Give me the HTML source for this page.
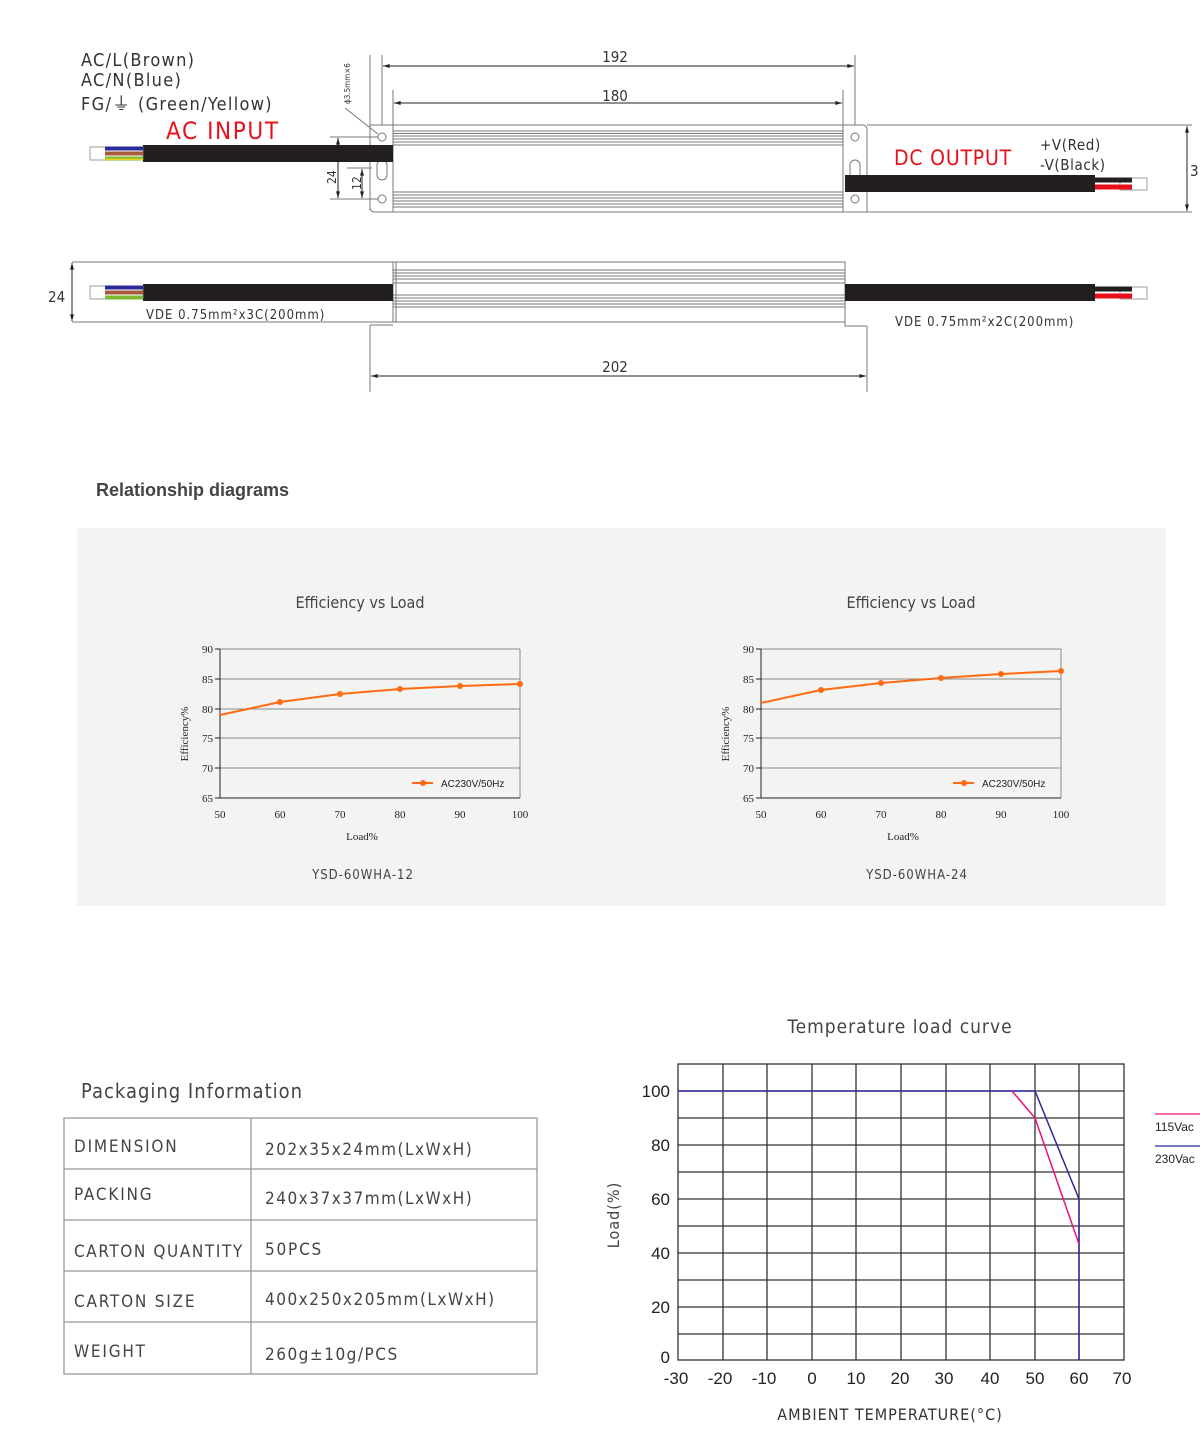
<!DOCTYPE html>
<html><head><meta charset="utf-8"><style>
html,body{margin:0;padding:0;background:#fff}
svg{display:block}
</style></head><body>
<svg width="1200" height="1446" viewBox="0 0 1200 1446" xmlns="http://www.w3.org/2000/svg" font-family="DejaVu Sans Condensed, Liberation Sans, sans-serif">
<defs>
<marker id="ar" viewBox="0 0 10 6" refX="10" refY="3" markerWidth="10" markerHeight="4" orient="auto-start-reverse"><path d="M0,0L10,3L0,6z" fill="#222"/></marker>
</defs>
<!-- ===== Top drawing ===== -->
<g fill="#333" font-size="18" letter-spacing="1.3">
<text x="81" y="66">AC/L(Brown)</text>
<text x="81" y="86">AC/N(Blue)</text>
<text x="81" y="110">FG/⏚ (Green/Yellow)</text>
</g>
<text x="166" y="139" font-size="24" fill="#e8101a" letter-spacing="1.6">AC INPUT</text>
<text x="894" y="165" font-size="21" fill="#e8101a" letter-spacing="0.8">DC OUTPUT</text>
<text x="1040" y="150" font-size="15" fill="#333" letter-spacing="0.6">+V(Red)</text>
<text x="1040" y="170" font-size="15" fill="#333" letter-spacing="0.6">-V(Black)</text>
<text x="1190" y="176" font-size="15" fill="#333">3</text>

<g stroke="#777" stroke-width="1" fill="none">
<line x1="370" y1="55" x2="370" y2="210"/>
<line x1="382" y1="55" x2="382" y2="125"/>
<line x1="855" y1="55" x2="855" y2="125"/>
<line x1="393" y1="90" x2="393" y2="125"/>
<line x1="843" y1="90" x2="843" y2="125"/>
<line x1="867" y1="125" x2="1192" y2="125"/>
<line x1="867" y1="212" x2="1192" y2="212"/>
<path d="M370,125 H393 V212 H375 Q370,212 370,207 Z"/>
<path d="M843,125 H862 Q867,125 867,130 V212 H843 Z"/>
<circle cx="382" cy="137" r="4"/><circle cx="382" cy="199" r="4"/>
<rect x="377" y="160" width="10" height="20" rx="5"/>
<circle cx="855" cy="137" r="4"/><circle cx="855" cy="199" r="4"/>
<rect x="850" y="160" width="10" height="20" rx="5"/>
<rect x="393" y="125" width="450" height="87"/>
<line x1="393" y1="131" x2="843" y2="131"/><line x1="393" y1="133.5" x2="843" y2="133.5"/>
<line x1="393" y1="136" x2="843" y2="136"/><line x1="393" y1="139" x2="843" y2="139"/>
<line x1="393" y1="142" x2="843" y2="142"/><line x1="393" y1="145" x2="843" y2="145"/>
<line x1="393" y1="192" x2="843" y2="192"/><line x1="393" y1="195" x2="843" y2="195"/>
<line x1="393" y1="198" x2="843" y2="198"/><line x1="393" y1="201" x2="843" y2="201"/>
<line x1="393" y1="204" x2="843" y2="204"/><line x1="393" y1="207" x2="843" y2="207"/>
<rect x="393" y="262" width="452" height="60"/>
<line x1="396" y1="262" x2="396" y2="322"/>
<line x1="72" y1="262" x2="393" y2="262"/>
<line x1="72" y1="322" x2="393" y2="322"/>
<line x1="393" y1="270" x2="845" y2="270"/><line x1="393" y1="273" x2="845" y2="273"/>
<line x1="393" y1="276" x2="845" y2="276"/><line x1="393" y1="279" x2="845" y2="279"/>
<line x1="393" y1="283" x2="845" y2="283"/>
<line x1="393" y1="295" x2="845" y2="295"/><line x1="393" y1="298" x2="845" y2="298"/>
<line x1="393" y1="301" x2="845" y2="301"/><line x1="393" y1="304" x2="845" y2="304"/>
<line x1="393" y1="307" x2="845" y2="307"/>
<path d="M370,325 H393"/><path d="M845,322 V326 H867"/>
<line x1="370" y1="325" x2="370" y2="392"/>
<line x1="867" y1="326" x2="867" y2="392"/>
<line x1="330" y1="137" x2="378" y2="137"/>
<line x1="330" y1="199" x2="378" y2="199"/>
<line x1="347" y1="168" x2="372" y2="168"/>
<line x1="345" y1="108" x2="378" y2="134"/>
</g>
<g stroke="#222" stroke-width="1">
<line x1="383" y1="66" x2="854" y2="66" marker-start="url(#ar)" marker-end="url(#ar)"/>
<line x1="394" y1="103" x2="842" y2="103" marker-start="url(#ar)" marker-end="url(#ar)"/>
<line x1="371" y1="376" x2="866" y2="376" marker-start="url(#ar)" marker-end="url(#ar)"/>
<line x1="1187" y1="126" x2="1187" y2="211" marker-start="url(#ar)" marker-end="url(#ar)"/>
<line x1="72" y1="263" x2="72" y2="321" marker-start="url(#ar)" marker-end="url(#ar)"/>
<line x1="338" y1="138" x2="338" y2="198" marker-start="url(#ar)" marker-end="url(#ar)"/>
<line x1="362" y1="169" x2="362" y2="198" marker-start="url(#ar)" marker-end="url(#ar)"/>
</g>
<g fill="#333" font-size="15">
<text x="615" y="62" text-anchor="middle">192</text>
<text x="615" y="101" text-anchor="middle">180</text>
<text x="615" y="372" text-anchor="middle">202</text>
<text x="48" y="302">24</text>
<text x="146" y="319" font-size="13" letter-spacing="1">VDE 0.75mm²x3C(200mm)</text>
<text x="895" y="326" font-size="13" letter-spacing="1">VDE 0.75mm²x2C(200mm)</text>
<text transform="translate(336,184) rotate(-90)" font-size="12">24</text>
<text transform="translate(361,190) rotate(-90)" font-size="12">12</text>
<text transform="translate(350,104) rotate(-90)" font-size="8">ϕ3.5mm×6</text>
</g>
<g>
<rect x="143" y="145" width="250" height="17" fill="#231f1e"/>
<rect x="90" y="147" width="53" height="13" fill="#fff" stroke="#888" stroke-width="0.8"/>
<rect x="105" y="146.5" width="38" height="4" fill="#2a2a9a"/>
<rect x="105" y="151.5" width="38" height="4" fill="#a85a3a"/>
<rect x="105" y="156.5" width="38" height="4" fill="#7ab830"/>
<rect x="105" y="158.5" width="38" height="1.5" fill="#e6d020"/>
<rect x="143" y="284" width="250" height="17" fill="#231f1e"/>
<rect x="90" y="286" width="53" height="13" fill="#fff" stroke="#888" stroke-width="0.8"/>
<rect x="105" y="285.5" width="38" height="4" fill="#2a2a9a"/>
<rect x="105" y="290.5" width="38" height="4" fill="#a85a3a"/>
<rect x="105" y="295.5" width="38" height="4" fill="#7ab830"/>
<rect x="845" y="175" width="250" height="17" fill="#231f1e"/>
<rect x="1120" y="178" width="27" height="12" fill="#fff" stroke="#888" stroke-width="0.8"/>
<rect x="1095" y="177.5" width="37" height="5" fill="#231f1e"/>
<rect x="1095" y="184.5" width="37" height="5" fill="#e8101a"/>
<rect x="845" y="284" width="250" height="17" fill="#231f1e"/>
<rect x="1120" y="287" width="27" height="12" fill="#fff" stroke="#888" stroke-width="0.8"/>
<rect x="1095" y="286.5" width="37" height="5" fill="#231f1e"/>
<rect x="1095" y="293.5" width="37" height="5" fill="#e8101a"/>
</g>

<!-- ===== Relationship diagrams ===== -->
<text x="96" y="496" font-size="18" font-weight="bold" fill="#444" font-family="Liberation Sans,sans-serif">Relationship diagrams</text>
<rect x="77" y="528" width="1089" height="378" fill="#f3f4f2"/>
<g fill="#444" font-size="16">
<text x="360" y="608" text-anchor="middle">Efficiency vs Load</text>
<text x="911" y="608" text-anchor="middle">Efficiency vs Load</text>
</g>
<g fill="#444" font-size="13" letter-spacing="1">
<text x="363" y="879" text-anchor="middle">YSD-60WHA-12</text>
<text x="917" y="879" text-anchor="middle">YSD-60WHA-24</text>
</g>
<g font-family="Liberation Serif,serif" font-size="11" fill="#222">
<g stroke="#888" stroke-width="1">
<line x1="220" y1="649" x2="520" y2="649"/><line x1="220" y1="679" x2="520" y2="679"/>
<line x1="220" y1="709" x2="520" y2="709"/><line x1="220" y1="738" x2="520" y2="738"/>
<line x1="220" y1="768" x2="520" y2="768"/><line x1="520" y1="649" x2="520" y2="798"/>
</g>
<g stroke="#222" stroke-width="1">
<line x1="220" y1="649" x2="220" y2="798"/><line x1="220" y1="798" x2="520" y2="798"/>
<line x1="215" y1="649" x2="220" y2="649"/><line x1="215" y1="679" x2="220" y2="679"/><line x1="215" y1="709" x2="220" y2="709"/><line x1="215" y1="738" x2="220" y2="738"/><line x1="215" y1="768" x2="220" y2="768"/><line x1="215" y1="798" x2="220" y2="798"/>
</g>
<text x="213" y="653" text-anchor="end">90</text><text x="213" y="683" text-anchor="end">85</text><text x="213" y="713" text-anchor="end">80</text><text x="213" y="742" text-anchor="end">75</text><text x="213" y="772" text-anchor="end">70</text><text x="213" y="802" text-anchor="end">65</text>
<text x="220" y="818" text-anchor="middle">50</text><text x="280" y="818" text-anchor="middle">60</text><text x="340" y="818" text-anchor="middle">70</text><text x="400" y="818" text-anchor="middle">80</text><text x="460" y="818" text-anchor="middle">90</text><text x="520" y="818" text-anchor="middle">100</text>
<text x="362" y="840" text-anchor="middle">Load%</text>
<text transform="translate(188,734) rotate(-90)" text-anchor="middle">Efficiency%</text>
<polyline points="220,715 280,702 340,694 400,689 460,686 520,684" fill="none" stroke="#ff6a13" stroke-width="2"/>
<g fill="#ff6a13"><circle cx="280" cy="702" r="3"/><circle cx="340" cy="694" r="3"/><circle cx="400" cy="689" r="3"/><circle cx="460" cy="686" r="3"/><circle cx="520" cy="684" r="3"/>
<line x1="412" y1="783" x2="433" y2="783" stroke="#ff6a13" stroke-width="2"/><circle cx="423" cy="783" r="3"/></g>
<text x="441" y="787" font-family="Liberation Sans,sans-serif" font-size="10">AC230V/50Hz</text>
</g>
<g font-family="Liberation Serif,serif" font-size="11" fill="#222">
<g stroke="#888" stroke-width="1">
<line x1="761" y1="649" x2="1061" y2="649"/><line x1="761" y1="679" x2="1061" y2="679"/>
<line x1="761" y1="709" x2="1061" y2="709"/><line x1="761" y1="738" x2="1061" y2="738"/>
<line x1="761" y1="768" x2="1061" y2="768"/><line x1="1061" y1="649" x2="1061" y2="798"/>
</g>
<g stroke="#222" stroke-width="1">
<line x1="761" y1="649" x2="761" y2="798"/><line x1="761" y1="798" x2="1061" y2="798"/>
<line x1="756" y1="649" x2="761" y2="649"/><line x1="756" y1="679" x2="761" y2="679"/><line x1="756" y1="709" x2="761" y2="709"/><line x1="756" y1="738" x2="761" y2="738"/><line x1="756" y1="768" x2="761" y2="768"/><line x1="756" y1="798" x2="761" y2="798"/>
</g>
<text x="754" y="653" text-anchor="end">90</text><text x="754" y="683" text-anchor="end">85</text><text x="754" y="713" text-anchor="end">80</text><text x="754" y="742" text-anchor="end">75</text><text x="754" y="772" text-anchor="end">70</text><text x="754" y="802" text-anchor="end">65</text>
<text x="761" y="818" text-anchor="middle">50</text><text x="821" y="818" text-anchor="middle">60</text><text x="881" y="818" text-anchor="middle">70</text><text x="941" y="818" text-anchor="middle">80</text><text x="1001" y="818" text-anchor="middle">90</text><text x="1061" y="818" text-anchor="middle">100</text>
<text x="903" y="840" text-anchor="middle">Load%</text>
<text transform="translate(729,734) rotate(-90)" text-anchor="middle">Efficiency%</text>
<polyline points="761,703 821,690 881,683 941,678 1001,674 1061,671" fill="none" stroke="#ff6a13" stroke-width="2"/>
<g fill="#ff6a13"><circle cx="821" cy="690" r="3"/><circle cx="881" cy="683" r="3"/><circle cx="941" cy="678" r="3"/><circle cx="1001" cy="674" r="3"/><circle cx="1061" cy="671" r="3"/>
<line x1="953" y1="783" x2="974" y2="783" stroke="#ff6a13" stroke-width="2"/><circle cx="964" cy="783" r="3"/></g>
<text x="982" y="787" font-family="Liberation Sans,sans-serif" font-size="10">AC230V/50Hz</text>
</g>

<!-- ===== Packaging ===== -->
<text x="81" y="1098" font-size="20" fill="#444" letter-spacing="1">Packaging Information</text>
<g stroke="#999" stroke-width="1.3" fill="none">
<rect x="64" y="1118" width="473" height="256"/>
<line x1="251" y1="1118" x2="251" y2="1374"/>
<line x1="64" y1="1169" x2="537" y2="1169"/><line x1="64" y1="1220" x2="537" y2="1220"/>
<line x1="64" y1="1271" x2="537" y2="1271"/><line x1="64" y1="1322" x2="537" y2="1322"/>
</g>
<g fill="#444" font-size="17" letter-spacing="1.8">
<text x="74" y="1152">DIMENSION</text><text x="265" y="1155" letter-spacing="1.5">202x35x24mm(LxWxH)</text>
<text x="74" y="1200">PACKING</text><text x="265" y="1204" letter-spacing="1.5">240x37x37mm(LxWxH)</text>
<text x="74" y="1257" letter-spacing="1.6">CARTON QUANTITY</text><text x="265" y="1255">50PCS</text>
<text x="74" y="1307">CARTON SIZE</text><text x="265" y="1305" letter-spacing="1.5">400x250x205mm(LxWxH)</text>
<text x="74" y="1357">WEIGHT</text><text x="265" y="1360" letter-spacing="1.5">260g±10g/PCS</text>
</g>

<!-- ===== Temperature load curve ===== -->
<text x="900" y="1033" font-size="19" fill="#444" text-anchor="middle" letter-spacing="1">Temperature load curve</text>
<g stroke="#333" stroke-width="1.3" fill="none">
<rect x="678" y="1064" width="446" height="296"/>
<line x1="723" y1="1064" x2="723" y2="1360"/><line x1="767" y1="1064" x2="767" y2="1360"/>
<line x1="812" y1="1064" x2="812" y2="1360"/><line x1="856" y1="1064" x2="856" y2="1360"/>
<line x1="901" y1="1064" x2="901" y2="1360"/><line x1="946" y1="1064" x2="946" y2="1360"/>
<line x1="990" y1="1064" x2="990" y2="1360"/><line x1="1035" y1="1064" x2="1035" y2="1360"/>
<line x1="1079" y1="1064" x2="1079" y2="1360"/>
<line x1="678" y1="1091" x2="1124" y2="1091"/><line x1="678" y1="1118" x2="1124" y2="1118"/>
<line x1="678" y1="1145" x2="1124" y2="1145"/><line x1="678" y1="1172" x2="1124" y2="1172"/>
<line x1="678" y1="1199" x2="1124" y2="1199"/><line x1="678" y1="1226" x2="1124" y2="1226"/>
<line x1="678" y1="1253" x2="1124" y2="1253"/><line x1="678" y1="1280" x2="1124" y2="1280"/>
<line x1="678" y1="1307" x2="1124" y2="1307"/><line x1="678" y1="1334" x2="1124" y2="1334"/>
</g>
<polyline points="678,1091 1035,1091 1079,1199 1079,1360" fill="none" stroke="#2a2a9a" stroke-width="1.5"/>
<polyline points="1012,1091 1035,1118 1079,1244" fill="none" stroke="#ee1177" stroke-width="1.5"/>
<line x1="1155" y1="1114" x2="1200" y2="1114" stroke="#ee1177" stroke-width="1.2"/>
<line x1="1155" y1="1146" x2="1200" y2="1146" stroke="#2a2a9a" stroke-width="1.2"/>
<g font-family="Liberation Sans,sans-serif" font-size="12" fill="#222">
<text x="1155" y="1131">115Vac</text><text x="1155" y="1163">230Vac</text>
</g>
<g font-family="Liberation Sans,sans-serif" font-size="17" fill="#222">
<text x="670" y="1097" text-anchor="end">100</text><text x="670" y="1151" text-anchor="end">80</text>
<text x="670" y="1205" text-anchor="end">60</text><text x="670" y="1259" text-anchor="end">40</text>
<text x="670" y="1313" text-anchor="end">20</text><text x="670" y="1363" text-anchor="end">0</text>
<text x="676" y="1384" text-anchor="middle">-30</text><text x="720" y="1384" text-anchor="middle">-20</text>
<text x="764" y="1384" text-anchor="middle">-10</text><text x="812" y="1384" text-anchor="middle">0</text>
<text x="856" y="1384" text-anchor="middle">10</text><text x="900" y="1384" text-anchor="middle">20</text>
<text x="944" y="1384" text-anchor="middle">30</text><text x="990" y="1384" text-anchor="middle">40</text>
<text x="1035" y="1384" text-anchor="middle">50</text><text x="1079" y="1384" text-anchor="middle">60</text>
<text x="1122" y="1384" text-anchor="middle">70</text>
</g>
<text x="890" y="1420" font-size="16" fill="#333" text-anchor="middle" letter-spacing="1">AMBIENT TEMPERATURE(°C)</text>
<text transform="translate(619,1215) rotate(-90)" font-size="16" fill="#444" text-anchor="middle" letter-spacing="1">Load(%)</text>
</svg>
</body></html>
